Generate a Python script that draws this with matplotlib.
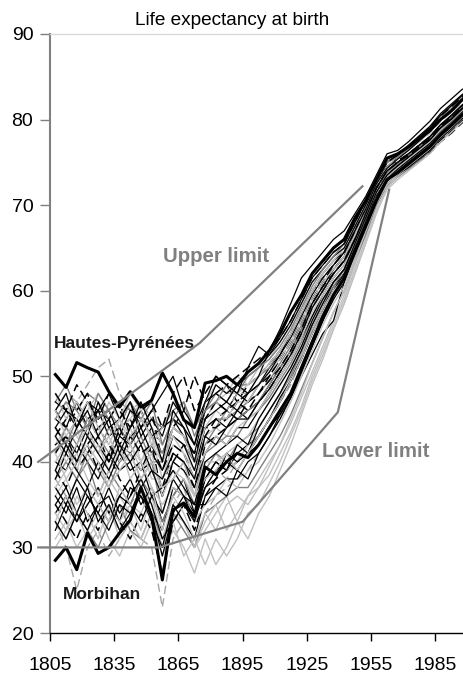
import matplotlib
matplotlib.use("Agg")
import matplotlib.pyplot as plt

plt.rcParams['font.family'] = ['Liberation Sans', 'DejaVu Sans']

# mid-points of five-year periods (1805-1810 -> 1807.5, ...)
years = [1807.5, 1812.5, 1817.5, 1822.5, 1827.5, 1832.5, 1837.5, 1842.5, 1847.5, 1852.5,
         1857.5, 1862.5, 1867.5, 1872.5, 1877.5, 1882.5, 1887.5, 1892.5, 1897.5, 1902.5,
         1907.5, 1912.5, 1917.5, 1922.5, 1927.5, 1932.5, 1937.5, 1942.5, 1947.5, 1952.5,
         1957.5, 1962.5, 1967.5, 1972.5, 1977.5, 1982.5, 1987.5, 1992.5, 1997.5, 2002.5]

# highlighted departments
hautes_pyrenees = [50.2, 48.7, 51.6, 51.0, 50.5, 48.2, 46.4, 48.2, 46.4, 47.2, 50.4, 48.0, 44.9, 44.0, 49.2, 49.5, 50.0, 49.0, 50.5, 51.5,
                   53.0, 55.0, 57.5, 59.5, 62.0, 63.5, 65.0, 66.0, 68.5, 70.5, 73.0, 75.5, 76.0, 76.8, 77.8, 78.7, 80.0, 81.0, 82.3, 83.2]
morbihan = [28.5, 30.0, 27.4, 31.7, 29.3, 30.0, 31.7, 33.2, 37.0, 33.6, 26.2, 34.4, 35.2, 33.6, 39.4, 38.5, 40.0, 41.0, 40.5, 42.0,
            44.0, 46.0, 48.0, 51.0, 54.0, 57.0, 59.5, 61.5, 64.5, 67.5, 70.5, 73.0, 73.8, 74.8, 75.8, 76.8, 78.2, 79.3, 80.5, 81.5]

# other departments, thin black
black_solid = [
    [45, 44, 47, 45, 46, 43, 44, 45, 42, 44, 42, 45, 43, 41, 46, 47, 46, 48, 47, 49,
     51, 52.5, 55, 57.5, 60, 62, 63.5, 64.5, 67, 69.5, 72.5, 74.5, 75.5, 76.5, 77.6, 78.7, 80.1, 81.1, 82.3, 83.2],
    [36, 34, 37, 33, 35, 36, 33, 37, 36, 34, 32, 37, 36, 34, 38, 40, 39, 41, 42, 43,
     45, 47.5, 49.5, 52.5, 55.5, 58, 60.5, 62, 65, 68, 71, 73, 74.3, 75.2, 76.2, 77.2, 78.6, 79.8, 81, 82],
    [42, 43, 41, 44, 42, 40, 43, 42, 44, 41, 39, 43, 42, 39, 44, 45, 44, 46, 45, 47,
     49, 51, 53, 55.5, 58.5, 60.5, 62.5, 64, 66.5, 69, 72, 74, 75, 76, 77, 78, 79.4, 80.4, 81.6, 82.5],
    [47, 46, 44, 47, 45, 46, 43, 46, 45, 43, 44, 45, 44, 42, 47, 48, 47, 49, 48, 50,
     53, 55.5, 58.5, 61.5, 63, 64.5, 66, 67, 69, 71, 73.5, 76, 76.4, 77.4, 78.6, 79.8, 81.3, 82.4, 83.5, 84.3],
    [34, 36, 33, 35, 37, 34, 36, 38, 35, 37, 33, 36, 38, 34, 37, 39, 40, 39, 41, 42,
     44, 45.5, 47.5, 50, 52.5, 55, 56.5, 61, 64.5, 67.5, 70.5, 72.5, 73.8, 74.8, 75.8, 76.8, 78.2, 79.2, 80.5, 81.5],
    [40, 39, 42, 40, 38, 41, 39, 40, 37, 39, 36, 40, 39, 37, 41, 43, 42, 44, 44, 46,
     48, 50, 52, 54.5, 57, 59.5, 61.5, 63, 66, 68.5, 71.5, 73.5, 74.5, 75.5, 76.5, 77.5, 79, 80, 81.2, 82.2],
    [44, 46, 45, 43, 47, 44, 45, 47, 43, 45, 43, 47, 45, 42, 46, 49, 48, 49, 50, 51,
     52.5, 54, 56, 58.5, 61, 62.5, 64, 65, 67.5, 70, 72.5, 75, 75.8, 76.8, 77.9, 79, 80.5, 81.6, 82.8, 83.7],
    [38, 41, 39, 37, 40, 38, 41, 39, 40, 36, 37, 39, 37, 35, 40, 41, 42, 43, 42, 45,
     47, 49, 51, 53.5, 56.5, 59, 61, 62.5, 65.5, 68.5, 71.5, 73.5, 74.6, 75.6, 76.6, 77.6, 79, 80.1, 81.3, 82.3],
    [32, 35, 33, 36, 34, 32, 35, 34, 36, 33, 30, 35, 33, 31, 36, 37, 38, 38, 40, 41,
     43, 45.5, 47.5, 50.5, 53.5, 56.5, 59, 61, 64, 67, 70.5, 72.5, 73.6, 74.4, 75.4, 76.4, 77.8, 78.9, 80.1, 81.1],
    [37, 35, 38, 36, 34, 37, 34, 36, 38, 35, 31, 33, 35, 33, 37, 38, 41, 40, 41, 43,
     45, 47, 49.5, 52, 55, 57.5, 60, 62, 65, 68, 71, 73, 74.2, 75.2, 76.2, 77.2, 78.5, 79.6, 80.8, 81.8],
    [46, 48, 44, 47, 46, 48, 45, 47, 44, 46, 48, 50, 46, 44, 47, 50, 49, 48, 51, 53.5,
     52.5, 54.5, 56.5, 59, 61.5, 63, 64.5, 65.5, 68, 70.5, 73, 75.5, 76, 77, 78.1, 79.2, 80.7, 81.8, 82.9, 83.8],
    [35, 37, 34, 32, 35, 33, 36, 35, 33, 36, 34, 38, 36, 33, 38, 40, 39, 42, 41, 44,
     46, 48, 50.5, 53, 56, 58.5, 61, 62.5, 65.5, 68.5, 71.5, 73.5, 74.6, 75.6, 76.6, 77.6, 79, 80, 81.2, 82.2],
    [43, 41, 44, 46, 43, 45, 41, 44, 47, 44, 40, 46, 44, 40, 45, 46, 47, 46, 48, 49,
     50.5, 52.5, 54.5, 57, 59.5, 61.5, 63, 64.5, 67, 69.5, 72.5, 74.3, 75.4, 76.4, 77.5, 78.6, 80, 81, 82.2, 83.1],
    [39, 42, 40, 43, 41, 39, 42, 40, 42, 39, 38, 41, 40, 38, 43, 42, 44, 45, 45, 47,
     48.5, 50.5, 52.5, 55, 58, 60, 62, 63.5, 66, 69, 72, 74, 75, 76, 77, 78, 79.4, 80.5, 81.7, 82.6],
    [33, 31, 34, 37, 33, 35, 32, 34, 37, 34, 29, 34, 36, 35, 35, 37, 36, 39, 38, 41,
     43, 45, 47.5, 50.5, 53.5, 56.5, 59.5, 61.5, 64.5, 67.5, 70.8, 72.8, 74, 75, 76, 77, 78.4, 79.5, 80.7, 81.7],
]

black_dashed = [
    [43, 45, 47, 44, 46, 45, 42, 44, 46, 43, 41, 44, 46, 50, 47, 48, 49, 47, 49, 50,
     51.5, 53, 55, 57.5, 60, 61.5, 63, 64.5, 67, 69.5, 72.5, 74.5, 75.2, 76, 77, 78, 79.3, 80.4, 81.6, 82.6],
    [39, 37, 40, 42, 39, 41, 38, 36, 39, 40, 37, 41, 40, 37, 42, 43, 44, 45, 46, 47,
     48.5, 50.5, 52.5, 55, 58, 60, 62, 63.5, 66, 68.5, 71, 72.8, 73.5, 74.3, 75.2, 76.1, 77.4, 78.4, 79.6, 80.6],
    [46, 44, 46, 48, 44, 45, 47, 43, 44, 46, 40, 44, 43, 40, 45, 47, 46, 47, 48, 49,
     50, 52, 54, 56.5, 59, 61, 62.5, 64, 66.5, 69, 72, 73.6, 74.5, 75.3, 76.2, 77.1, 78.3, 79.3, 80.5, 81.4],
    [35, 33, 31, 34, 32, 35, 33, 31, 34, 32, 27, 33, 35, 32, 36, 38, 39, 40, 41, 43,
     45, 47, 49.5, 52, 55, 57.5, 60, 62, 65, 68, 71, 73, 74.2, 75.2, 76.2, 77.2, 78.5, 79.6, 80.8, 81.8],
    [41, 43, 40, 42, 44, 42, 40, 43, 41, 42, 39, 42, 41, 38, 43, 45, 46, 45, 47, 48,
     50, 52, 54, 56.5, 59, 61, 63, 64.5, 67, 69.5, 72, 74, 75, 75.8, 76.8, 77.8, 79.2, 80.2, 81.4, 82.4],
    [44, 42, 39, 41, 43, 40, 44, 41, 39, 42, 36, 40, 42, 41, 44, 44, 45, 47, 46, 48,
     49.5, 51, 53, 55.5, 58.5, 60.5, 62, 63.5, 66, 68.5, 71, 72.9, 73.7, 74.5, 75.4, 76.3, 77.6, 78.6, 79.8, 80.8],
    [48, 46, 49, 47, 45, 48, 46, 44, 46, 47, 44, 48, 50, 46, 48, 50, 49, 50, 51, 52,
     53, 54.5, 56.5, 59, 61.5, 63, 64.5, 65.5, 68, 70.5, 73, 75, 75.9, 76.8, 77.9, 79, 80.4, 81.5, 82.6, 83.5],
]

grey_solid = [
    [44, 42, 45, 43, 41, 44, 42, 41, 43, 40, 40, 43, 42, 40, 44, 45, 45, 46, 47, 48,
     49.5, 51.5, 53.5, 56, 58.5, 60.5, 62.5, 64, 66.5, 69, 72, 74, 75, 75.9, 76.9, 77.9, 79.3, 80.3, 81.5, 82.5],
    [38, 40, 38, 41, 39, 37, 40, 41, 38, 40, 34, 38, 40, 36, 41, 42, 43, 43, 45, 46,
     47.5, 49.5, 51.5, 54, 57, 59, 61, 62.5, 65.5, 68, 71, 73.3, 74.4, 75.4, 76.4, 77.4, 78.8, 79.9, 81.1, 82.1],
    [47, 49, 46, 48, 47, 45, 47, 46, 44, 45, 44, 46, 47, 43, 46, 48, 47, 49, 49, 50,
     51, 53, 55, 57.5, 60, 62, 63.5, 65, 67.5, 70, 72.8, 75.2, 75.8, 76.8, 77.9, 79, 80.4, 81.5, 82.6, 83.5],
    [33, 31, 34, 32, 30, 33, 35, 32, 31, 34, 31, 34, 32, 30, 34, 35, 36, 37, 37, 39,
     41, 43, 45.5, 48.5, 51.5, 54.5, 57.5, 60, 63.5, 66.5, 70, 72.2, 73.3, 74.2, 75.2, 76.2, 77.5, 78.6, 79.9, 80.9],
    [41, 44, 42, 45, 43, 41, 44, 42, 45, 43, 41, 44, 43, 40, 42, 44, 46, 45, 46, 47,
     49, 51, 53, 55.5, 58, 60, 62, 63.5, 66.5, 69, 72, 73.8, 74.8, 75.8, 76.8, 77.8, 79.2, 80.2, 81.4, 82.4],
    [37, 35, 38, 40, 36, 39, 37, 35, 38, 36, 33, 36, 38, 35, 39, 41, 40, 42, 43, 44,
     46, 48, 50, 53, 56, 58.5, 60.5, 62.5, 65.5, 68.5, 71.5, 73.4, 74.4, 75.3, 76.3, 77.3, 78.7, 79.7, 80.9, 81.9],
    [45, 47, 46, 44, 48, 46, 44, 47, 45, 47, 42, 45, 47, 44, 46, 47, 49, 48, 50, 51,
     52, 53.5, 55.5, 58, 60.5, 62.5, 64, 65.5, 68, 70.5, 73, 75, 75.6, 76.6, 77.6, 78.7, 80.1, 81.2, 82.4, 83.3],
]

light_solid = [
    [42, 44, 43, 41, 43, 40, 42, 44, 40, 43, 38, 42, 41, 39, 43, 44, 43, 45, 46, 47,
     48.5, 50.5, 52.5, 55, 58, 60, 62, 63.5, 66, 68.5, 71.5, 73.6, 74.6, 75.6, 76.6, 77.6, 79, 80, 81.2, 82.2],
    [36, 38, 35, 37, 35, 38, 36, 34, 37, 35, 30, 34, 33, 30, 32, 34, 36, 33, 36, 38,
     40, 42, 44.5, 47.5, 50.5, 53.5, 56.5, 59.5, 63, 66.5, 70, 72.4, 73.6, 74.6, 75.6, 76.6, 78, 79, 80.3, 81.2],
    [31, 33, 30, 32, 34, 31, 29, 32, 30, 33, 29, 32, 30, 27, 31, 28, 30, 33, 31, 34,
     36, 39, 42, 45.5, 49, 52, 55.5, 58.5, 62, 65.5, 69, 72, 73.3, 74.3, 75.3, 76.3, 77.7, 78.8, 80, 81],
    [45, 47, 44, 46, 48, 46, 44, 45, 47, 44, 42, 45, 44, 42, 46, 47, 48, 48, 49, 50,
     51.5, 53, 55, 57.5, 60, 62, 63.5, 65, 67.5, 70, 72.8, 75, 75.6, 76.6, 77.7, 78.8, 80.2, 81.3, 82.5, 83.4],
    [39, 41, 44, 40, 42, 39, 41, 40, 42, 38, 38, 40, 39, 36, 39, 41, 39, 40, 42, 44,
     46, 48, 50, 52.5, 55.5, 58, 60, 62, 65, 68, 71, 73, 74.2, 75.2, 76.2, 77.2, 78.6, 79.7, 80.9, 81.9],
    [48, 45, 47, 45, 43, 47, 45, 48, 46, 42, 44, 47, 45, 44, 47, 49, 48, 50, 49, 51,
     52, 54, 56, 58.5, 61, 62.5, 64, 65.5, 68, 70.5, 73, 75.3, 75.9, 76.9, 78, 79.1, 80.5, 81.6, 82.7, 83.6],
    [34, 32, 36, 34, 31, 35, 33, 35, 32, 36, 31, 35, 33, 30, 33, 35, 32, 34, 36, 37,
     38.5, 41, 43.5, 46.5, 50, 53, 56, 59, 62.5, 66, 69.5, 72, 73.4, 74.4, 75.4, 76.4, 77.8, 78.9, 80.1, 81.1],
    [40, 42, 39, 43, 41, 43, 40, 42, 39, 41, 36, 39, 38, 36, 40, 40, 41, 42, 43, 45,
     47, 49, 51, 53.5, 56.5, 59, 61, 62.5, 65.5, 68.5, 71.5, 73.6, 74.5, 75.5, 76.5, 77.5, 78.9, 80, 81.2, 82.2],
    [30, 32, 34, 31, 33, 35, 31, 33, 31, 34, 30, 33, 29, 31, 28, 31, 29, 31, 34, 35,
     37.5, 40, 43, 46, 49.5, 52.5, 55.5, 58.5, 62, 65.5, 69.2, 71.8, 73, 74, 75, 76, 77.4, 78.5, 79.7, 80.7],
    [43, 40, 42, 44, 41, 43, 45, 42, 40, 42, 40, 43, 41, 38, 41, 43, 42, 44, 45, 46,
     48, 50, 52, 54.5, 57.5, 59.5, 61.5, 63, 65.5, 68.5, 71.5, 73.4, 74.4, 75.4, 76.4, 77.4, 78.8, 79.9, 81.1, 82.1],
    [37, 39, 41, 38, 36, 39, 42, 38, 40, 37, 35, 37, 36, 33, 35, 36, 38, 37, 39, 40,
     42, 44.5, 47, 50, 53, 56, 58.5, 60.5, 64, 67, 70.5, 72.6, 73.8, 74.8, 75.8, 76.8, 78.2, 79.2, 80.4, 81.4],
    [46, 43, 45, 47, 44, 42, 45, 43, 45, 43, 40, 44, 43, 40, 44, 46, 45, 47, 47, 49,
     50.5, 52, 54, 56.5, 59, 61, 62.5, 64, 66.5, 69.5, 72.5, 74.4, 75.4, 76.4, 77.4, 78.5, 79.9, 81, 82.2, 83.1],
    [33, 36, 34, 37, 35, 33, 37, 35, 34, 37, 32, 36, 34, 31, 34, 32, 35, 36, 35, 37,
     39.5, 42, 45, 48, 51.5, 54.5, 57.5, 60, 63.5, 67, 70.2, 72.4, 73.6, 74.6, 75.6, 76.6, 78, 79.1, 80.3, 81.3],
    [41, 38, 40, 42, 40, 37, 39, 41, 38, 40, 37, 38, 40, 36, 38, 39, 41, 39, 41, 43,
     45, 47, 49.5, 52, 55, 57.5, 60, 61.5, 64.5, 67.5, 70.8, 72.8, 74, 75, 76, 77, 78.4, 79.5, 80.7, 81.7],
]

light_dashed = [
    [33, 30, 25, 30, 32, 29, 31, 33, 31, 30, 23, 31, 33, 30, 34, 36, 37, 38, 39, 41,
     43, 45, 47.5, 50.5, 53.5, 56.5, 59, 61, 64, 67, 70.5, 72.6, 73.8, 74.8, 75.8, 76.8, 78.2, 79.2, 80.4, 81.4],
    [46, 48, 47, 49, 51, 52, 48, 46, 47, 45, 44, 46, 44, 42, 45, 47, 46, 48, 48, 50,
     51.5, 53, 55, 57.5, 60, 61.5, 63, 64.5, 67, 69.5, 72.5, 74.6, 75.5, 76.4, 77.4, 78.4, 79.8, 80.8, 82, 83],
    [38, 36, 33, 35, 37, 34, 32, 35, 37, 34, 30, 35, 37, 33, 37, 39, 38, 40, 42, 43,
     45, 47, 49, 52, 55, 57.5, 60, 62, 65, 68, 71, 73, 74, 75, 76, 77, 78.4, 79.4, 80.6, 81.6],
]

# hand drawn envelopes (year, value)
upper_x = [1799.5, 1875, 1951]
upper_y = [40, 53.9, 72.2]
lower_x = [1799.5, 1856, 1895, 1939.5, 1963.5]
lower_y = [30, 30, 33, 45.8, 71.8]

xticks = [1805, 1835, 1865, 1895, 1925, 1955, 1985]
yticks = [20, 30, 40, 50, 60, 70, 80, 90]

BLACK = '#000000'
GREY = '#808080'
LIGHT = '#c0c0c0'
DASH = (0, (6, 3))

groups = [
    (light_solid, dict(color=LIGHT, lw=1.0)),
    (black_solid, dict(color=BLACK, lw=0.9)),
    (grey_solid, dict(color=GREY, lw=1.0)),
    (light_dashed, dict(color='#a6a6a6', lw=1.0, linestyle=DASH)),
    (black_dashed, dict(color=BLACK, lw=1.1, linestyle=DASH)),
]

fig = plt.figure(figsize=(4.63, 6.73), dpi=100)
ax = fig.add_axes([50 / 463, 40 / 673, 413 / 463, 599 / 673])

# interleave the groups so no colour sits entirely on top
longest = max(len(g) for g, _ in groups)
for i in range(longest):
    for series, style in groups:
        if i < len(series):
            ax.plot(years, series[i], **style)

ax.plot(years, hautes_pyrenees, color=BLACK, lw=2.2)
ax.plot(years, morbihan, color=BLACK, lw=2.2)

ax.plot(upper_x, upper_y, color=GREY, lw=1.6, clip_on=False, zorder=5)
ax.plot(lower_x, lower_y, color=GREY, lw=1.6, clip_on=False, zorder=5)

ax.text(1882.6, 63.4, 'Upper limit', color=GREY, fontsize=14.7, fontweight='bold',
        ha='center', va='baseline')
ax.text(1957.4, 40.6, 'Lower limit', color=GREY, fontsize=14.7, fontweight='bold',
        ha='center', va='baseline')
ax.text(1840, 53.3, 'Hautes-Pyrénées', color='#1a1a1a', fontsize=12.5, fontweight='bold',
        ha='center', va='baseline')
ax.text(1829.3, 24.0, 'Morbihan', color='#1a1a1a', fontsize=12.5, fontweight='bold',
        ha='center', va='baseline')

ax.set_xlim(1805, 1998)
ax.set_ylim(20, 90)
ax.set_xticks(xticks)
ax.set_yticks(yticks)
ax.tick_params(axis='x', direction='out', length=6, width=1, pad=11, labelsize=14, color=BLACK)
ax.tick_params(axis='y', direction='out', length=7, width=1, pad=5, labelsize=14, color=GREY)

ax.spines['right'].set_visible(False)
ax.spines['top'].set_color('#d9d9d9')
ax.spines['top'].set_linewidth(1)
ax.spines['left'].set_color(GREY)
ax.spines['left'].set_linewidth(1.5)
ax.spines['bottom'].set_color(BLACK)
ax.spines['bottom'].set_linewidth(1)

fig.text(0.501, 1 - 25 / 673, 'Life expectancy at birth', fontsize=13.7, ha='center', va='baseline')

fig.savefig('out.png', dpi=100)
